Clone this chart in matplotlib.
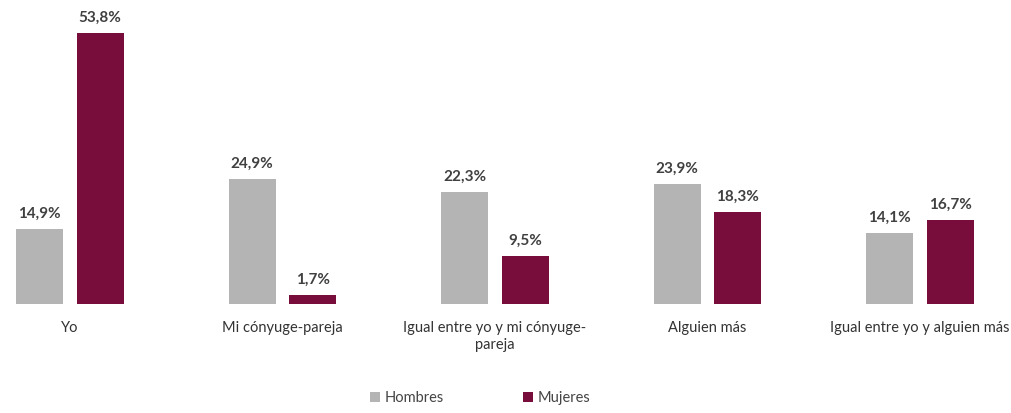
import numpy as np
import matplotlib.pyplot as plt

categorias = ['Yo', 'Mi cónyuge-pareja', 'Igual entre yo y mi cónyuge-\npareja',
              'Alguien más', 'Igual entre yo y alguien más']
hombres = [14.9, 24.9, 22.3, 23.9, 14.1]
mujeres = [53.8, 1.7, 9.5, 18.3, 16.7]
series = ['Hombres', 'Mujeres']


def etiqueta(v):
    return '{:.1f}%'.format(v).replace('.', ',')


def run_main():
    plt.rcParams['font.family'] = ['Lato', 'DejaVu Sans']
    fig = plt.figure(figsize=(10.11, 4.13), dpi=100)
    ax = fig.add_axes([0, 0.2639, 1, 0.731])

    x = np.arange(len(categorias))
    w = 0.221
    gris = '#B4B4B4'
    vino = '#780C3B'
    b1 = ax.bar(x - 0.1425, hombres, w, color=gris, label=series[0])
    b2 = ax.bar(x + 0.1425, mujeres, w, color=vino, label=series[1])

    for barras, vals in ((b1, hombres), (b2, mujeres)):
        for b, v in zip(barras, vals):
            ax.annotate(etiqueta(v), (b.get_x() + b.get_width() / 2, v),
                        xytext=(0, 6), textcoords='offset points',
                        ha='center', va='bottom', fontsize=11,
                        fontweight='bold', color='#404040')

    ax.set_xlim(-0.329, 4.428)
    ax.set_ylim(0, 60)
    ax.set_xticks(x)
    ax.set_xticklabels(categorias, fontsize=10.5, color='#333333',
                       linespacing=1.3, va='top')
    ax.tick_params(axis='x', length=0, pad=12)
    ax.set_yticks([])
    for s in ax.spines.values():
        s.set_visible(False)

    fig.legend(loc='center', bbox_to_anchor=(0.475, 0.037), ncol=2,
               frameon=False, fontsize=10.5, handlelength=0.7,
               handleheight=0.7, handletextpad=0.3, columnspacing=5.4,
               labelcolor='#444444')

    fig.savefig('out.png', dpi=100)


if __name__ == "__main__":
    run_main()
